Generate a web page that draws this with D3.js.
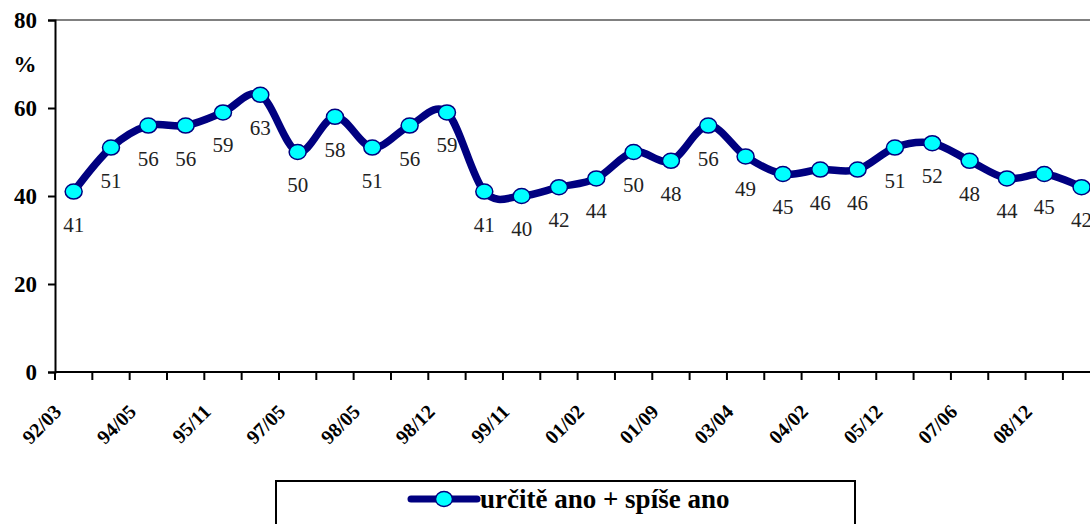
<!DOCTYPE html>
<html>
<head>
<meta charset="utf-8">
<script src="https://cdn.jsdelivr.net/npm/d3@7"></script>
<style>
  body { margin: 0; background: #fff; }
  svg text { font-family: "Liberation Serif", "Times New Roman", "DejaVu Serif", serif; }
</style>
</head>
<body>
<div id="chart"></div>
<script>
// survey waves (every other one gets a label on the axis)
var waves = ["92/03","93/x1","94/05","94/x2","95/11","96/x3","97/05","97/x4","98/05","98/x5",
             "98/12","99/x6","99/11","00/x7","01/02","01/x8","01/09","02/x9","03/04","03/x10",
             "04/02","05/x11","05/12","06/x12","07/06","07/x13","08/12","09/x14"];
var values = [41,51,56,56,59,63,50,58,51,56,59,41,40,42,44,50,48,56,49,45,46,46,51,52,48,44,45,42];
var yTicks = [0,20,40,60,80];
var seriesName = "určitě ano + spíše ano";

var FONT = "'Liberation Serif', 'Times New Roman', serif";
var W = 1090, H = 524;
var margin = {top: 20, left: 55};
var plotH = 352;          // 0 sits at y=372
var band = 37.33;

var svg = d3.select("#chart").append("svg")
    .attr("width", W).attr("height", H)
    .style("display", "block");

var x = d3.scaleBand()
    .domain(waves)
    .range([margin.left, margin.left + band * waves.length]);

var y = d3.scaleLinear()
    .domain([0, 80])
    .range([margin.top + plotH, margin.top]);

function cx(d, i) { return x(waves[i]) + x.bandwidth() / 2; }

// plot area top border
svg.append("line")
    .attr("x1", margin.left).attr("x2", W)
    .attr("y1", y(80)).attr("y2", y(80))
    .attr("stroke", "#808080").attr("stroke-width", 2);

// y axis
var yAxis = svg.append("g")
    .attr("transform", "translate(" + margin.left + ",0)")
    .call(d3.axisLeft(y).tickValues(yTicks).tickSize(7).tickPadding(11));
yAxis.attr("font-family", FONT);
yAxis.select(".domain").attr("stroke", "#000").attr("stroke-width", 2);
yAxis.selectAll(".tick line").attr("stroke", "#000").attr("stroke-width", 2);
yAxis.selectAll(".tick text")
    .style("font-family", FONT)
    .style("font-size", "23px").style("font-weight", "bold").attr("fill", "#000");

svg.append("text")
    .attr("x", 25).attr("y", 72)
    .attr("text-anchor", "middle")
    .style("font-family", FONT)
    .style("font-size", "23px").style("font-weight", "bold")
    .text("%");

// x axis: ticks on band edges
var edges = d3.range(waves.length + 1).map(function(i) { return margin.left + i * band; });
var xAxis = svg.append("g");
xAxis.append("line")
    .attr("x1", margin.left).attr("x2", W)
    .attr("y1", y(0)).attr("y2", y(0))
    .attr("stroke", "#000").attr("stroke-width", 2);
xAxis.selectAll(".xt").data(edges).enter().append("line")
    .attr("class", "xt")
    .attr("x1", function(d) { return d; }).attr("x2", function(d) { return d; })
    .attr("y1", y(0)).attr("y2", y(0) + 8)
    .attr("stroke", "#000").attr("stroke-width", 2);

xAxis.selectAll(".xl").data(waves.filter(function(d, i) { return i % 2 === 0; }))
    .enter().append("text")
    .attr("class", "xl")
    .attr("text-anchor", "end")
    .attr("transform", function(d) {
        return "translate(" + (x(d) + x.bandwidth() / 2 - 11) + ",413) rotate(-45)";
    })
    .style("font-family", FONT)
    .style("font-size", "20px").style("font-weight", "bold")
    .text(function(d) { return d; });

// line
var line = d3.line()
    .x(cx)
    .y(function(d) { return y(d); })
    .curve(d3.curveCatmullRom.alpha(0));

svg.append("path")
    .datum(values)
    .attr("d", line)
    .attr("fill", "none")
    .attr("stroke", "#000080")
    .attr("stroke-width", 7.5)
    .attr("stroke-linejoin", "round");

// markers
svg.selectAll(".pt").data(values).enter().append("ellipse")
    .attr("class", "pt")
    .attr("cx", cx)
    .attr("cy", function(d) { return y(d); })
    .attr("rx", 8.5).attr("ry", 7.5)
    .attr("fill", "#00ffff")
    .attr("stroke", "#000080").attr("stroke-width", 1.5);

// data labels
svg.selectAll(".lbl").data(values).enter().append("text")
    .attr("class", "lbl")
    .attr("x", cx)
    .attr("y", function(d) { return y(d) + 40; })
    .attr("text-anchor", "middle")
    .style("font-family", FONT)
    .style("font-size", "21px")
    .attr("fill", "#222")
    .text(function(d) { return d; });

// legend
var lg = svg.append("g");
lg.append("rect")
    .attr("x", 276).attr("y", 481)
    .attr("width", 579).attr("height", 60)
    .attr("fill", "#fff").attr("stroke", "#000").attr("stroke-width", 2);
lg.append("line")
    .attr("x1", 411).attr("x2", 477).attr("y1", 499).attr("y2", 499)
    .attr("stroke", "#000080").attr("stroke-width", 7).attr("stroke-linecap", "round");
lg.append("ellipse")
    .attr("cx", 444).attr("cy", 499).attr("rx", 8.5).attr("ry", 7.5)
    .attr("fill", "#00ffff").attr("stroke", "#000080").attr("stroke-width", 1.5);
lg.append("text")
    .attr("x", 480).attr("y", 508)
    .style("font-family", FONT)
    .style("font-size", "27px").style("font-weight", "bold")
    .text(seriesName);
</script>
</body>
</html>
